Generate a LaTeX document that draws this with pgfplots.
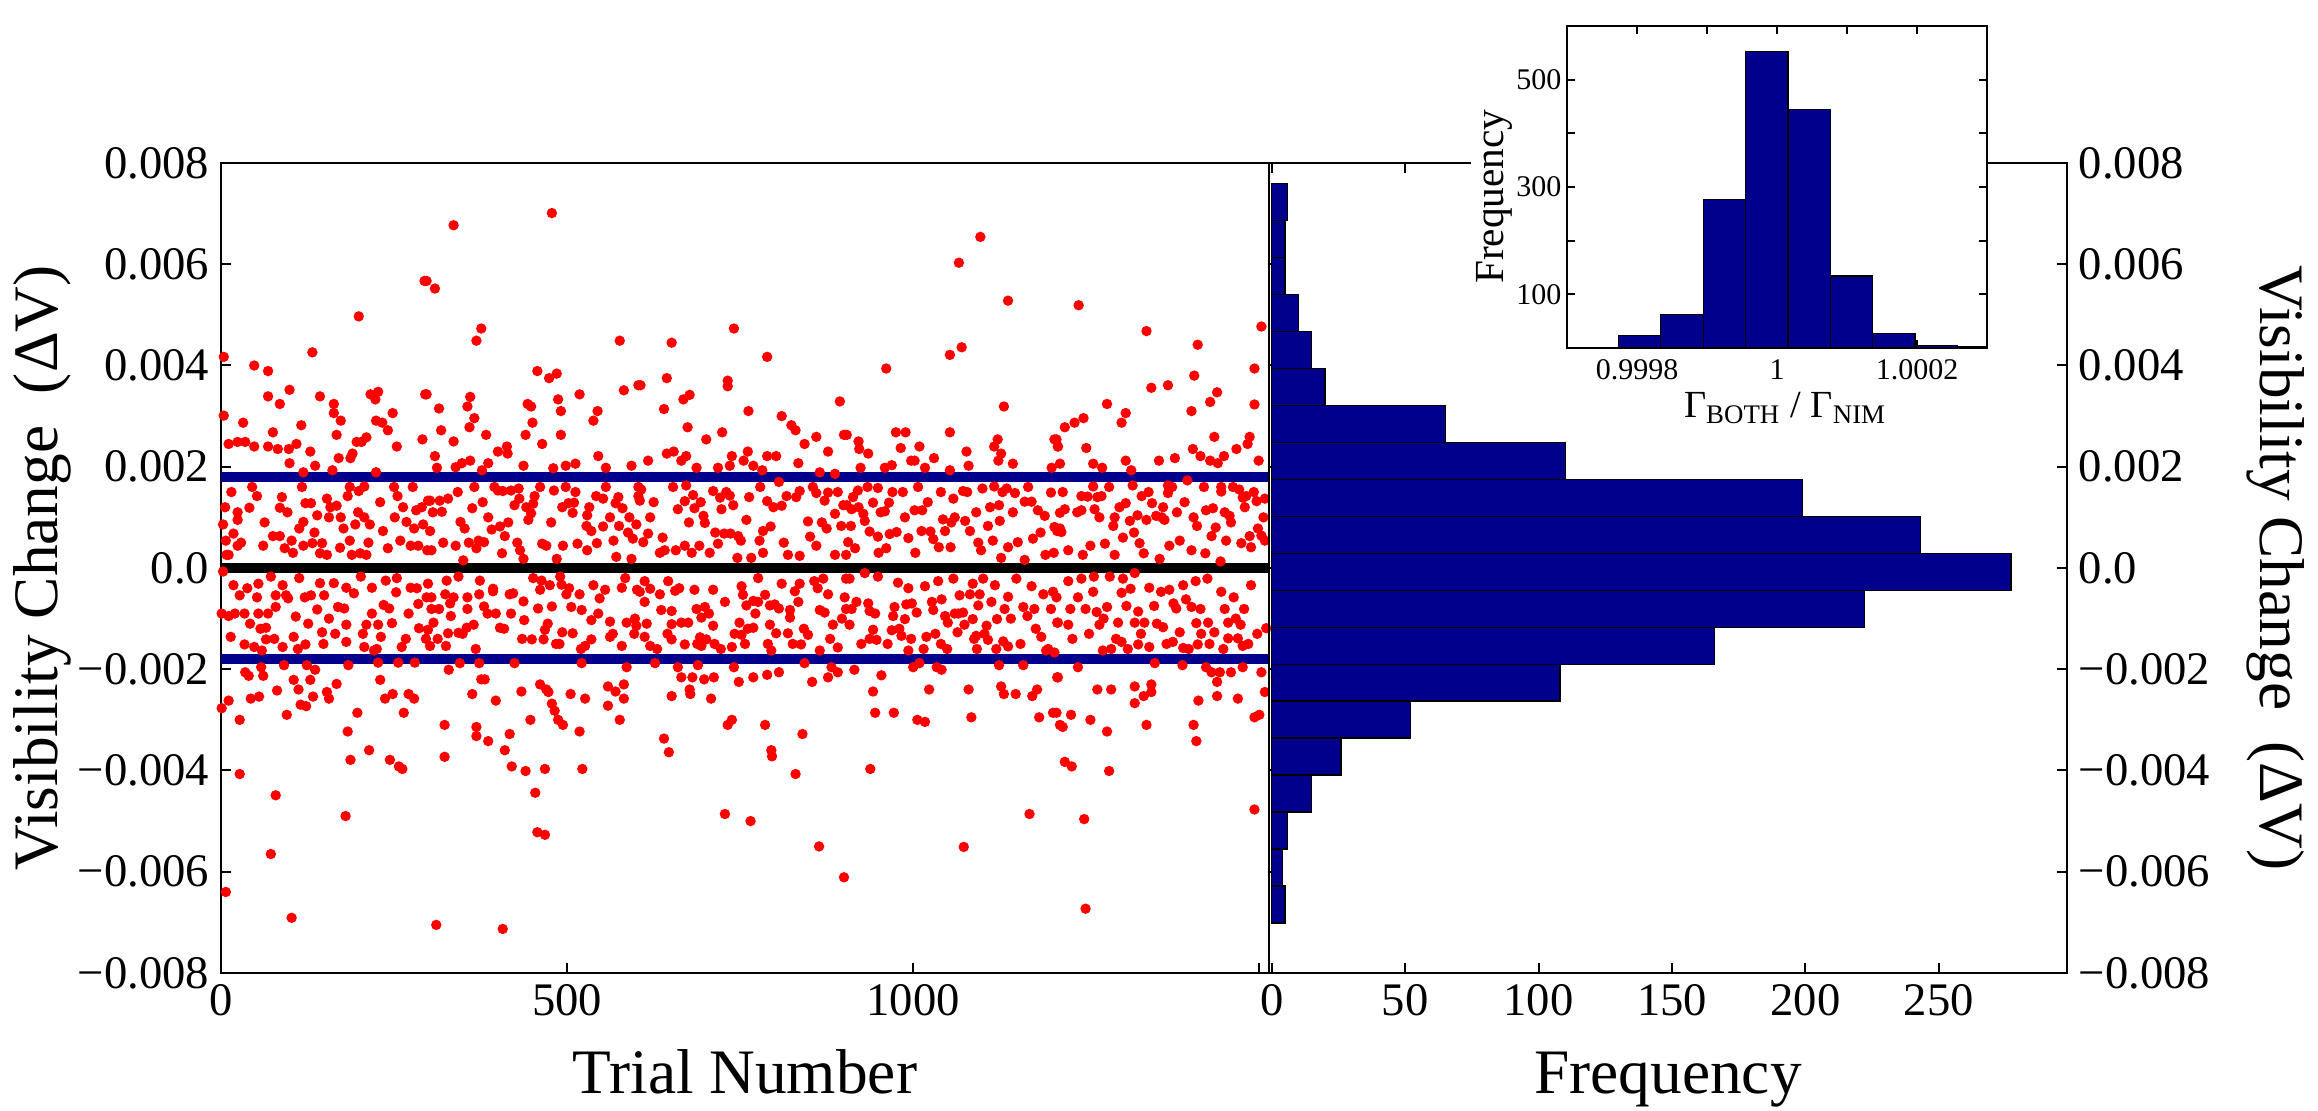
\documentclass[border=0pt]{standalone}
\usepackage{fontspec}
\setmainfont{Liberation Serif}
\usepackage{pgfplots}
\pgfplotsset{compat=1.18}
\definecolor{dkblue}{RGB}{0,0,140}
\begin{document}
\begin{tikzpicture}
\pgfplotsset{
  every axis/.append style={
    scale only axis, scaled ticks=false,
    axis line style={line width=0.6pt},
    every tick/.style={black, line width=0.6pt},
    major tick length=3pt, tick align=inside,
    /pgf/number format/assume math mode=true,
    tick label style={font=\fontsize{14}{16}\selectfont},
    label style={font=\fontsize{19}{22}\selectfont},
  }
}
\begin{axis}[at={(66.3pt,41.4pt)}, anchor=south west, width=314.4pt, height=243pt,
  xmin=0, xmax=1514, ymin=-0.008, ymax=0.008,
  xtick={0,500,1000,1500}, xticklabels={0,500,1000,},
  ytick={-0.008,-0.006,-0.004,-0.002,0,0.002,0.004,0.006,0.008},
  yticklabels={−0.008,−0.006,−0.004,−0.002,0.0,0.002,0.004,0.006,0.008},
  xtick pos=bottom, ytick pos=left,
  xlabel={Trial Number}, ylabel={Visibility Change\ \ (ΔV)},
  xlabel style={at={(axis description cs:0.5,-0.149)}, anchor=base},
  ylabel style={at={(axis description cs:-0.17,0.5)}, anchor=center},
]
\addplot[only marks, mark=*, mark size=1.35pt, color=red] coordinates {
(294,0.00567)(199,0.00497)(132,0.00426)(4,0.00417)(48,0.0040)(68,0.00389)(295,0.00343)(68,0.00339)(99,0.00352)(143,0.00339)(85,0.00324)(163,0.00324)(216,0.00343)(227,0.00348)(223,0.00333)(4,0.00301)(32,0.00287)(116,0.00282)(163,0.00306)(173,0.00291)(248,0.00306)(224,0.00291)(233,0.00287)(241,0.00272)(75,0.00268)(167,0.00263)(11,0.00245)(24,0.00249)(35,0.00249)(48,0.0024)(68,0.0024)(82,0.00235)(98,0.00235)(109,0.00245)(99,0.00207)(129,0.0023)(136,0.00202)(170,0.00217)(187,0.00217)(190,0.00226)(196,0.00249)(203,0.00249)(210,0.00258)(254,0.0024)(291,0.00254)(161,0.00193)(119,0.00189)(224,0.00189)(299,0.00133)
(52,0.00142)(41,0.00119)(24,0.0011)(24,0.00095)(18,0.00068)(7,0.00054)(24,0.00044)(11,0.00026)(61,0.00044)(75,0.00063)(85,0.00063)(85,0.00119)(96,0.0011)(92,0.00039)(102,0.00054)(113,0.00078)(119,0.00091)(122,0.00128)(130,0.00128)(139,0.00104)(153,0.00137)(156,0.001)(167,0.00123)(173,0.001)(177,0.00078)(183,0.00142)(194,0.00086)(199,0.00152)(207,0.00161)(215,0.00086)(207,0.001)(234,0.00073)(251,0.001)(255,0.00142)(282,0.00114)(268,0.00091)(279,0.00078)(292,0.00086)(259,0.00054)(274,0.00044)(285,0.00044)(298,0.00035)(119,0.00044)(132,0.00049)(146,0.00049)(143,0.00029)(153,0.00026)(189,0.00026)(201,0.00029)(210,0.00026)(186,0.00054)(241,0.00039)(3,0.00086)(8,0.00026)
(3,-0.00007)(18,-0.00034)(27,-0.00054)(52,-0.00058)(54,-0.00031)(72,-0.00017)(89,-0.00034)(94,-0.00054)(79,-0.00054)(113,-0.0002)(121,-0.00058)(130,-0.00054)(143,-0.0003)(149,-0.00054)(163,-0.0003)(139,-0.00082)(169,-0.00077)(108,-0.00096)(79,-0.00077)(68,-0.0009)(54,-0.0009)(34,-0.0009)(20,-0.0009)(1,-0.0009)(11,-0.00095)(42,-0.0011)(65,-0.00118)(14,-0.00136)(65,-0.00141)(34,-0.00151)(48,-0.00156)(89,-0.00156)(105,-0.00136)(122,-0.00151)(146,-0.00127)(156,-0.001)(181,-0.00112)(181,-0.00146)(207,-0.00156)(210,-0.00112)(218,-0.0009)(231,-0.00136)(235,-0.00073)(247,-0.00109)(261,-0.00156)(271,-0.0009)(285,-0.00071)(297,-0.00058)(253,-0.00048)(274,-0.00039)(238,-0.00025)(218,-0.00039)(202,-0.00017)(181,-0.00039)(254,-0.0002)(286,-0.00119)(227,-0.00112)(221,-0.00163)(59,-0.00163)
(35,-0.00206)(40,-0.00213)(61,-0.00213)(58,-0.00196)(91,-0.00192)(124,-0.00192)(136,-0.00201)(184,-0.00192)(227,-0.00187)(256,-0.00187)(280,-0.00187)(230,-0.00221)(105,-0.00221)(129,-0.00221)(81,-0.00242)(55,-0.00254)(43,-0.00258)(112,-0.0024)(153,-0.00245)(156,-0.00258)(167,-0.00229)(133,-0.00254)(115,-0.0027)(123,-0.00273)(95,-0.0029)(11,-0.00262)(1,-0.00277)(27,-0.003)(197,-0.00286)(237,-0.00258)(248,-0.00249)(271,-0.00249)(279,-0.00258)(264,-0.00286)(183,-0.00323)(214,-0.0036)(187,-0.00379)(244,-0.00379)(257,-0.00392)(262,-0.00397)(27,-0.00407)(79,-0.00449)(180,-0.0049)(72,-0.00565)(7,-0.0064)(102,-0.00691)
(478,0.00701)(336,0.00677)(297,0.00567)(309,0.00552)(376,0.00473)(369,0.00449)(576,0.00449)(457,0.00389)(474,0.00375)(485,0.00384)(582,0.00351)(603,0.00361)(297,0.00343)(360,0.00338)(487,0.00333)(518,0.00343)(315,0.00315)(356,0.00319)(443,0.00324)(448,0.00319)(491,0.0031)(366,0.00296)(544,0.0031)(538,0.00291)(450,0.00287)(318,0.00272)(359,0.00278)(383,0.00263)(440,0.00263)(491,0.00263)(336,0.0025)(464,0.00245)(400,0.0023)(413,0.0024)(414,0.00226)(309,0.00221)(348,0.00207)(360,0.00212)(386,0.00207)(437,0.00202)(480,0.00197)(498,0.00202)(512,0.00206)(545,0.00221)(556,0.00198)(593,0.00202)(377,0.00193)(339,0.00199)(312,0.00198)
(366,0.0016)(302,0.00133)(316,0.00133)(328,0.00137)(319,0.00111)(363,0.00118)(400,0.00153)(407,0.00152)(419,0.00153)(430,0.00157)(424,0.00124)(431,0.00137)(453,0.00142)(451,0.00127)(448,0.00108)(444,0.00095)(481,0.00153)(498,0.0016)(502,0.00128)(510,0.00129)(508,0.00109)(529,0.00104)(542,0.00142)(552,0.00137)(570,0.00128)(580,0.00118)(603,0.00142)(590,0.001)(562,0.001)(528,0.00083)(535,0.00073)(552,0.00082)(575,0.00083)(567,0.00054)(595,0.00058)(346,0.00091)(352,0.00078)(386,0.001)(391,0.00076)(403,0.00082)(380,0.00051)(372,0.00054)(410,0.00063)(302,0.00073)(339,0.00044)(304,0.00035)(369,0.00039)(406,0.00029)(432,0.00035)(464,0.00048)(470,0.00044)(494,0.00044)(515,0.00048)(529,0.00035)(543,0.00049)(571,0.00022)(593,0.00018)(350,0.00015)(437,0.00018)(485,0.00018)
(299,-0.00031)(326,-0.00025)(343,-0.00017)(374,-0.00025)(393,-0.00041)(417,-0.00052)(437,-0.00066)(451,-0.0002)(463,-0.00025)(475,-0.00034)(490,-0.00017)(492,-0.00033)(518,-0.00052)(538,-0.00034)(555,-0.00043)(579,-0.00039)(601,-0.00043)(304,-0.00058)(324,-0.00052)(336,-0.00058)(356,-0.00058)(373,-0.00052)(393,-0.00046)(461,-0.00043)(499,-0.00052)(304,-0.00081)(315,-0.00081)(356,-0.00081)(380,-0.00076)(397,-0.0009)(419,-0.0009)(478,-0.00076)(506,-0.00077)(521,-0.00083)(535,-0.00103)(545,-0.0009)(562,-0.00106)(586,-0.00108)(598,-0.001)(332,-0.00095)(299,-0.00122)(307,-0.00108)(328,-0.00129)(343,-0.00128)(355,-0.00118)(365,-0.00112)(403,-0.00118)(438,-0.00103)(449,-0.00141)(466,-0.00141)(468,-0.00122)(489,-0.0015)(493,-0.00127)(508,-0.00129)(535,-0.00141)(562,-0.00136)(579,-0.00154)(302,-0.00154)(325,-0.00154)(526,-0.00154)
(345,-0.00188)(373,-0.00188)(424,-0.00188)(521,-0.00188)(586,-0.00196)(329,-0.00201)(376,-0.0022)(381,-0.0022)(363,-0.00249)(397,-0.00262)(434,-0.00244)(461,-0.0023)(470,-0.0024)(473,-0.00245)(478,-0.00268)(482,-0.00282)(505,-0.00249)(526,-0.00258)(559,-0.00234)(559,-0.00272)(570,-0.00244)(582,-0.0023)(582,-0.00258)(576,-0.003)(447,-0.003)(487,-0.003)(494,-0.0031)(323,-0.0031)(369,-0.00314)(369,-0.00332)(386,-0.00342)(417,-0.00328)(518,-0.00323)(410,-0.0036)(323,-0.00373)(420,-0.00392)(440,-0.00401)(468,-0.00397)(522,-0.00397)(454,-0.00444)(457,-0.00522)(468,-0.00527)(311,-0.00705)(407,-0.00713)
(741,0.00473)(651,0.00445)(789,0.00417)(606,0.00361)(644,0.00375)(732,0.0037)(732,0.00359)(668,0.00333)(677,0.00342)(640,0.00314)(762,0.0031)(894,0.00329)(810,0.003)(824,0.00282)(830,0.00272)(674,0.00278)(724,0.00268)(900,0.00263)(860,0.00259)(701,0.00254)(843,0.00245)(877,0.0023)(644,0.00226)(654,0.0023)(672,0.00221)(665,0.00212)(617,0.00212)(738,0.00221)(735,0.00202)(761,0.0023)(755,0.00212)(769,0.00202)(789,0.00221)(802,0.00221)(834,0.00207)(865,0.00189)(718,0.00198)(687,0.00198)(782,0.00193)(887,0.00186)
(607,0.00155)(672,0.00163)(682,0.00144)(605,0.00133)(660,0.00116)(670,0.00132)(684,0.00118)(697,0.00103)(699,0.00089)(711,0.00152)(721,0.00139)(735,0.00143)(723,0.00116)(740,0.00124)(759,0.00095)(789,0.00132)(806,0.0017)(817,0.00142)(810,0.00123)(836,0.00152)(860,0.00148)(872,0.00133)(877,0.00149)(887,0.00107)(899,0.00124)(896,0.00083)(620,0.001)(617,0.00068)(610,0.00051)(600,0.00086)(634,0.0003)(641,0.00035)(657,0.00035)(670,0.00044)(680,0.0003)(691,0.00044)(706,0.0003)(718,0.00048)(727,0.00068)(736,0.00068)(751,0.00054)(747,0.00063)(778,0.00054)(783,0.00073)(794,0.00082)(783,0.0003)(766,0.0002)(819,0.00026)(848,0.00092)(851,0.00062)(860,0.00044)(875,0.00078)(887,0.00026)(903,0.00026)(836,0.00024)
(612,-0.00026)(605,-0.00047)(620,-0.00041)(634,-0.00052)(612,-0.00067)(646,-0.00026)(656,-0.00045)(684,-0.00043)(711,-0.00043)(728,-0.00067)(752,-0.00036)(754,-0.00053)(776,-0.0002)(786,-0.00053)(776,-0.00067)(810,-0.00031)(829,-0.00046)(836,-0.00031)(857,-0.00026)(870,-0.00021)(877,-0.00052)(901,-0.00058)(903,-0.00021)(636,-0.00083)(651,-0.00085)(687,-0.00081)(699,-0.00077)(694,-0.00098)(759,-0.00074)(769,-0.00065)(793,-0.00074)(800,-0.00072)(822,-0.00083)(822,-0.00098)(834,-0.00067)(865,-0.00083)(872,-0.00088)(903,-0.00081)(600,-0.00114)(651,-0.00111)(665,-0.00108)(675,-0.00108)(711,-0.00114)(749,-0.00108)(769,-0.00118)(793,-0.00112)(884,-0.00112)(612,-0.00136)(651,-0.00141)(692,-0.00137)(701,-0.00141)(713,-0.0015)(752,-0.00132)(761,-0.0012)(802,-0.00129)(819,-0.00129)(848,-0.00132)(620,-0.00154)(670,-0.00151)(694,-0.00154)(738,-0.00156)(795,-0.00163)(838,-0.00151)(865,-0.00163)(891,-0.00157)
(627,-0.00188)(660,-0.00196)(665,-0.00216)(681,-0.00216)(698,-0.0022)(712,-0.00216)(689,-0.00192)(741,-0.00196)(748,-0.00225)(769,-0.00216)(789,-0.00211)(806,-0.00206)(843,-0.00188)(854,-0.00225)(877,-0.00216)(891,-0.00206)(882,-0.00196)(677,-0.0024)(678,-0.00249)(651,-0.00253)(708,-0.00258)(732,-0.0031)(738,-0.003)(786,-0.0031)(840,-0.00328)(640,-0.00337)(647,-0.00364)(795,-0.0036)(796,-0.00372)(830,-0.00407)(728,-0.00486)(765,-0.005)(864,-0.0055)(900,-0.00611)
(1097,0.00654)(1066,0.00603)(1137,0.00528)(1053,0.00421)(1070,0.00436)(961,0.00394)(1131,0.00319)(975,0.00268)(989,0.00268)(1053,0.00268)(904,0.00263)(921,0.0025)(922,0.00235)(935,0.00226)(982,0.00237)(1009,0.0024)(1077,0.0023)(1122,0.00254)(1117,0.0024)(1127,0.00226)(1204,0.00254)(1209,0.0024)(997,0.00212)(1002,0.00212)(1030,0.00217)(1123,0.00212)(1144,0.00206)(1080,0.00202)(924,0.00198)(959,0.00198)(969,0.00203)(1017,0.00198)(1053,0.00193)(1200,0.00198)
(904,0.00124)(920,0.00153)(921,0.0012)(911,0.00116)(928,0.00107)(930,0.00093)(949,0.00158)(942,0.00129)(959,0.00112)(965,0.00129)(985,0.0015)(1002,0.00114)(1013,0.00114)(1043,0.00096)(1058,0.00137)(1060,0.001)(1072,0.00152)(1075,0.00093)(1091,0.0011)(1082,0.00073)(1100,0.00157)(1117,0.00161)(1124,0.00124)(1125,0.00093)(1135,0.00157)(1147,0.00148)(1161,0.00131)(1171,0.00131)(1180,0.00114)(1190,0.00103)(1199,0.00149)(1208,0.00073)(1108,0.00083)(910,0.00083)(937,0.00072)(906,0.00051)(916,0.00039)(949,0.00062)(966,0.00067)(976,0.00071)(993,0.00059)(1012,0.00073)(1025,0.00072)(1046,0.00073)(1029,0.00057)(1037,0.00041)(1054,0.00041)(950,0.0003)(961,0.00039)(1003,0.0003)(1098,0.00035)(1115,0.00054)(1137,0.00041)(1151,0.00051)(1173,0.00058)(1191,0.00026)(1203,0.0003)(1127,0.0002)(1161,0.00016)
(908,-0.00021)(930,-0.0001)(949,-0.00017)(978,-0.00029)(993,-0.0004)(1017,-0.00036)(1036,-0.00026)(1058,-0.00021)(1086,-0.00031)(1101,-0.00021)(1118,-0.00034)(1149,-0.00021)(1171,-0.00036)(1188,-0.00052)(1202,-0.00047)(918,-0.00067)(935,-0.0007)(911,-0.00081)(973,-0.00077)(990,-0.00072)(1027,-0.00067)(1041,-0.00062)(1067,-0.00054)(1082,-0.00052)(1096,-0.00052)(1113,-0.00067)(1137,-0.00057)(1159,-0.00077)(1175,-0.00081)(1199,-0.00081)(908,-0.00112)(937,-0.00085)(971,-0.00095)(988,-0.00101)(1005,-0.00088)(1029,-0.00083)(1046,-0.00095)(1060,-0.0009)(1072,-0.00088)(1094,-0.00074)(1121,-0.00101)(1132,-0.00081)(1165,-0.00095)(1208,-0.00108)(942,-0.00122)(969,-0.00123)(983,-0.00134)(997,-0.0014)(1019,-0.00136)(1050,-0.00108)(1064,-0.00127)(1074,-0.00112)(1086,-0.00101)(1091,-0.00134)(1106,-0.00114)(1108,-0.00142)(1130,-0.00145)(1137,-0.00155)(1185,-0.00136)(937,-0.0014)(947,-0.00142)(1040,-0.0015)(1092,-0.0016)(1192,-0.00163)(993,-0.00163)
(915,-0.00201)(954,-0.00212)(1000,-0.00196)(1009,-0.00188)(1034,-0.00196)(1041,-0.00201)(1124,-0.00192)(1159,-0.00192)(1208,-0.00216)(942,-0.00244)(1023,-0.0024)(1080,-0.0024)(1127,-0.00234)(1131,-0.00249)(1148,-0.00249)(1172,-0.00253)(1179,-0.0024)(945,-0.00286)(972,-0.00286)(1006,-0.003)(1017,-0.00304)(1084,-0.00295)(1182,-0.00295)(1202,-0.00286)(1212,-0.0031)(938,-0.00397)(1168,-0.00486)(1073,-0.00551)
(1239,0.00519)(1337,0.00468)(1503,0.00477)(1411,0.00441)(1493,0.00394)(1344,0.00356)(1368,0.00361)(1406,0.0038)(1493,0.00323)(1429,0.00328)(1439,0.00347)(1280,0.00324)(1307,0.00306)(1301,0.00287)(1402,0.0031)(1233,0.00287)(1246,0.00296)(1219,0.00278)(1435,0.00259)(1486,0.00259)(1207,0.00254)(1209,0.0024)(1250,0.00237)(1404,0.00235)(1467,0.00235)(1483,0.00245)(1415,0.00221)(1449,0.00221)(1429,0.00212)(1440,0.00207)(1378,0.00217)(1355,0.00212)(1307,0.00212)(1260,0.00206)(1273,0.00198)(1315,0.00193)(1212,0.00206)(1499,0.00212)
(1260,0.00161)(1272,0.00142)(1317,0.00163)(1330,0.00142)(1368,0.00163)(1368,0.00148)(1396,0.00173)(1445,0.0016)(1445,0.00151)(1471,0.00155)(1481,0.00142)(1496,0.00132)(1508,0.00137)(1243,0.00142)(1252,0.00141)(1212,0.00109)(1219,0.00116)(1243,0.00114)(1262,0.00116)(1269,0.001)(1291,0.001)(1289,0.00083)(1307,0.00128)(1313,0.00093)(1324,0.00104)(1337,0.00095)(1345,0.00128)(1351,0.00103)(1363,0.00095)(1361,0.0012)(1381,0.0011)(1410,0.00083)(1423,0.00114)(1433,0.00118)(1450,0.0011)(1459,0.0009)(1457,0.00103)(1476,0.00139)(1498,0.00078)(1503,0.00064)(1212,0.00078)(1204,0.00081)(1214,0.00071)(1224,0.00035)(1245,0.00026)(1256,0.00044)(1277,0.00048)(1291,0.00026)(1303,0.0006)(1327,0.00049)(1333,0.00029)(1356,0.00018)(1370,0.00044)(1385,0.00054)(1402,0.00035)(1422,0.00029)(1431,0.00063)(1452,0.00054)(1474,0.00049)(1488,0.00041)(1486,0.00063)(1508,0.00054)(1444,0.00013)
(1224,-0.00026)(1243,-0.00021)(1261,-0.00017)(1284,-0.00017)(1303,-0.00021)(1320,-0.0001)(1341,-0.00039)(1358,-0.00047)(1370,-0.00043)(1390,-0.00034)(1408,-0.00026)(1425,-0.00021)(1445,-0.00047)(1463,-0.00058)(1488,-0.00034)(1207,-0.00058)(1238,-0.00058)(1260,-0.00047)(1301,-0.00049)(1314,-0.00041)(1227,-0.00081)(1249,-0.00081)(1265,-0.00087)(1280,-0.00077)(1308,-0.00075)(1325,-0.00086)(1348,-0.00075)(1376,-0.0007)(1394,-0.00062)(1402,-0.00077)(1415,-0.00081)(1450,-0.00081)(1478,-0.00081)(1209,-0.00108)(1224,-0.00112)(1269,-0.00112)(1296,-0.00108)(1320,-0.00108)(1334,-0.00108)(1361,-0.00117)(1385,-0.00127)(1409,-0.00109)(1426,-0.00108)(1435,-0.00127)(1455,-0.00108)(1473,-0.00112)(1510,-0.00119)(1301,-0.00146)(1325,-0.00151)(1341,-0.00156)(1375,-0.00146)(1390,-0.00158)(1411,-0.00151)(1455,-0.00139)(1469,-0.00139)(1476,-0.00154)(1274,-0.00163)(1286,-0.0016)(1204,-0.00167)
(1209,-0.00216)(1238,-0.00196)(1349,-0.00188)(1389,-0.00192)(1423,-0.00196)(1431,-0.00206)(1443,-0.00206)(1459,-0.00206)(1476,-0.00196)(1503,-0.00206)(1439,-0.00225)(1266,-0.0024)(1286,-0.0024)(1320,-0.00234)(1320,-0.00267)(1344,-0.0023)(1344,-0.00245)(1333,-0.00253)(1412,-0.00262)(1439,-0.00253)(1469,-0.00258)(1508,-0.00245)(1207,-0.00286)(1228,-0.0029)(1216,-0.00314)(1256,-0.003)(1280,-0.00323)(1337,-0.0031)(1405,-0.0031)(1409,-0.00342)(1493,-0.00295)(1500,-0.0029)(1219,-0.00383)(1229,-0.00392)(1283,-0.00401)(1247,-0.00496)(1493,-0.00477)(1249,-0.00673)
(6,0.0012)(15,0.0015)(29,0.0005)(38,-0.0004)(45,0.0016)(57,-0.0012)(63,0.0009)(77,-0.0014)(88,0.0014)(97,-0.0006)(104,0.0003)(111,-0.0016)(117,0.0016)(126,-0.0011)(135,0.0007)(148,-0.0015)(158,0.0012)(165,-0.0013)(172,0.0004)(178,-0.0008)(186,0.0016)(192,-0.0005)(198,0.0011)(205,-0.0013)(213,0.0005)(225,-0.0016)(230,0.0013)(243,-0.0008)(250,0.0016)(263,0.0012)(267,-0.0014)(277,0.0016)(283,-0.0004)(290,0.0012)(296,-0.0014)
(306,0.0011)(313,-0.0014)(321,0.0005)(331,-0.0007)(342,0.0015)(349,-0.0013)(358,0.0005)(368,-0.0016)(378,0.0013)(385,-0.0009)(395,0.0016)(409,-0.0012)(415,0.0009)(422,-0.0005)(428,0.0005)(435,-0.0014)(441,0.0012)(458,-0.0008)(461,0.0016)(472,-0.0011)(477,0.0009)(484,-0.0015)(493,0.0012)(503,-0.0004)(512,0.0015)(520,-0.0016)(532,0.0012)(547,-0.0006)(556,0.0016)(566,-0.0013)(574,0.0014)(584,-0.0002)(588,0.0007)(597,-0.0013)
(603,0.0016)(615,-0.0011)(625,0.0013)(630,-0.0016)(638,0.0006)(645,-0.0013)(653,0.0016)(662,-0.0004)(676,0.0009)(688,-0.0015)(693,0.0013)(705,-0.0009)(714,0.0007)(722,-0.0016)(730,0.0015)(742,-0.0013)(746,0.0002)(757,-0.0015)(763,0.0014)(772,-0.0009)(779,0.0016)(790,-0.0015)(798,0.0012)(806,-0.0008)(813,0.0005)(826,-0.0015)(831,0.0014)(842,-0.0012)(855,0.0016)(862,-0.0004)(868,0.0009)(880,-0.0014)(891,0.0015)(897,-0.0010)
(913,0.0014)(925,-0.0015)(934,0.0016)(945,-0.0009)(953,0.0011)(963,-0.0015)(970,0.0015)(980,-0.0012)(988,0.0010)(998,-0.0007)(1007,0.0016)(1015,-0.0016)(1021,0.0013)(1032,-0.0013)(1040,0.0015)(1049,-0.0016)(1055,0.0009)(1065,-0.0009)(1078,0.0015)(1088,-0.0014)(1094,0.0005)(1103,-0.0013)(1111,0.0012)(1120,-0.0016)(1129,0.0015)(1141,-0.0010)(1144,0.0011)(1155,-0.0015)(1166,0.0016)(1177,-0.0012)(1184,0.0007)(1195,-0.0016)
(1216,0.0015)(1230,-0.0014)(1237,0.0011)(1254,-0.0013)(1266,0.0014)(1275,-0.0010)(1283,0.0016)(1293,-0.0014)(1298,0.0012)(1310,-0.0016)(1319,0.0007)(1329,-0.0013)(1340,0.0015)(1352,-0.0011)(1359,0.0010)(1366,-0.0015)(1374,0.0016)(1380,-0.0008)(1392,0.0013)(1398,-0.0016)(1405,0.0010)(1416,-0.0013)(1420,0.0016)(1428,-0.0015)(1437,0.0008)(1448,-0.0016)(1462,0.0016)(1466,-0.0010)(1479,0.0012)(1484,-0.0015)(1492,0.0015)(1497,-0.0013)(1506,0.0010)
};
\addplot[dkblue, line width=3pt] coordinates {(0,0.0018)(1514,0.0018)};
\addplot[dkblue, line width=3pt] coordinates {(0,-0.0018)(1514,-0.0018)};
\addplot[black, line width=3pt] coordinates {(0,0)(1514,0)};
\end{axis}
\begin{axis}[at={(380.7pt,41.4pt)}, anchor=south west, width=239.4pt, height=243pt,
  xmin=-1, xmax=298, ymin=-0.008, ymax=0.008,
  xtick={0,50,100,150,200,250},
  ytick={-0.008,-0.006,-0.004,-0.002,0,0.002,0.004,0.006,0.008},
  yticklabels={−0.008,−0.006,−0.004,−0.002,0.0,0.002,0.004,0.006,0.008},
  ytick pos=both, yticklabel pos=right,
  xlabel={Frequency}, ylabel={Visibility Change\ \ (ΔV)},
  xlabel style={at={(axis description cs:0.5,-0.149)}, anchor=base},
  ylabel style={at={(axis description cs:1.262,0.5)}, anchor=center, rotate=180},
]
\addplot[xbar interval, fill=dkblue, draw=black, line width=0.4pt] coordinates {
(5,-0.00701)(4,-0.00628)(6,-0.00555)(15,-0.00482)(26,-0.00409)(52,-0.00336)(108,-0.00263)(166,-0.0019)(222,-0.00117)(277,-0.00044)(243,0.00029)(199,0.00102)(110,0.00175)(65,0.00248)(20,0.00321)(15,0.00394)(10,0.00467)(5,0.0054)(5,0.00613)(6,0.00686)(6,0.00759)};
\end{axis}
\fill[white] (441.3pt,228.9pt) rectangle (596.1pt,325.5pt);
\begin{axis}[at={(470.1pt,228.9pt)}, anchor=south west, width=126pt, height=96.6pt,
  xmin=-3, xmax=3, ymin=0, ymax=600,
  axis background/.style={fill=white},
  major tick length=2.5pt,
  xtick={-2,-1,0,1,2}, xticklabels={0.9998,,1,,1.0002},
  ytick={100,200,300,400,500}, yticklabels={100,,300,,500},
  tick label style={font=\fontsize{9}{10}\selectfont},
  yticklabel style={inner xsep=1.5pt},
  xlabel={Γ\textsubscript{BOTH} / Γ\textsubscript{NIM}}, ylabel={Frequency},
  xlabel style={font=\fontsize{11.5}{13}\selectfont, at={(axis description cs:0.52,-0.216)}, anchor=base},
  ylabel style={font=\fontsize{12.4}{14}\selectfont, at={(axis description cs:-0.174,0.47)}, anchor=center},
]
\addplot[ybar interval, fill=dkblue, draw=black, line width=0.4pt] coordinates {
(-2.265,23)(-1.66,62)(-1.055,277)(-0.45,553)(0.155,444)(0.76,134)(1.365,27)(1.97,5)(2.575,3)(3.18,3)};
\end{axis}
\pgfresetboundingbox
\path[use as bounding box] (0pt,0pt) rectangle (695.4pt,333.3pt);
\end{tikzpicture}
\end{document}
